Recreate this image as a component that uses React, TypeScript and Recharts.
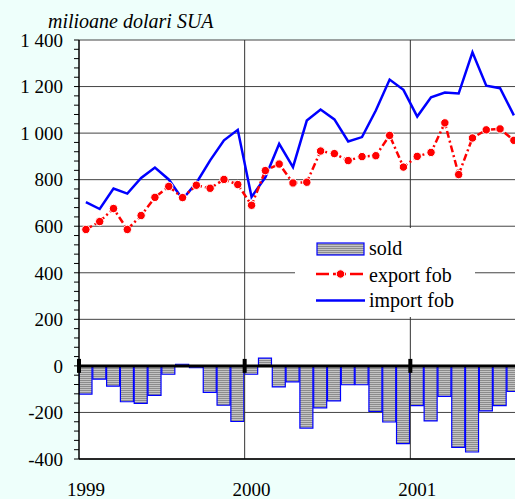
import React from 'react';
import {
  ComposedChart,
  Bar,
  Line,
  XAxis,
  YAxis,
  CartesianGrid,
  ReferenceLine,
} from 'recharts';

const FONT = "'Liberation Serif', 'Times New Roman', serif";

// monthly values, Jan 1999 .. Aug 2001 (rest of 2001 is cut off in the source)
const exportFob = [
  586, 620, 676, 586, 646, 724, 771, 723, 776, 763, 801, 779,
  690, 839, 867, 786, 789, 923, 912, 882, 899, 903, 990, 854,
  900, 917, 1044, 822, 979, 1014, 1018, 969,
];
const importFob = [
  704, 674, 762, 740, 807, 852, 801, 716, 786, 883, 969, 1014,
  726, 810, 954, 854, 1054, 1101, 1059, 964, 983, 1097, 1230, 1186,
  1071, 1154, 1174, 1170, 1347, 1204, 1193, 1076,
];
const sold = [
  -121, -57, -87, -154, -161, -127, -36, 7, -8, -114, -169, -239,
  -36, 33, -90, -69, -267, -180, -150, -81, -81, -196, -241, -334,
  -171, -236, -131, -350, -370, -193, -171, -110,
];

const years = ['1999', '2000', '2001'];
const yMajor = [-400, -200, 0, 200, 400, 600, 800, 1000, 1200, 1400];
const yMinor: number[] = [];
for (let v = -400; v <= 1400; v += 40) yMinor.push(v);

const data = sold.map((s, i) => ({
  x: i + 0.5,
  sold: s,
  exp: exportFob[i],
  imp: importFob[i],
}));

const fmtY = (v: number) => {
  if (v % 200 !== 0) return '';
  if (v >= 1000) return `${Math.floor(v / 1000)} ${String(v % 1000).padStart(3, '0')}`;
  return String(v);
};

const PLOT_LEFT = 79;
const PLOT_W = 497;
const X_MAX = 36;

// place label from the axis value itself; recharts nudges the first one inward otherwise
const YearTick = (props: any) => {
  const { y, payload } = props;
  const cx = PLOT_LEFT + (payload.value / X_MAX) * PLOT_W;
  return (
    <text
      x={cx}
      y={y}
      dy="0.71em"
      textAnchor="middle"
      fontSize={19}
      fontFamily={FONT}
      fill="#000"
    >
      {years[Math.floor(payload.value / 12)]}
    </text>
  );
};

export default function App() {
  return (
    <div
      style={{
        position: 'absolute',
        left: 0,
        top: 0,
        width: 515,
        height: 499,
        overflow: 'hidden',
        background: '#EEFFFB',
        fontFamily: FONT,
      }}
    >
      <svg width={0} height={0} style={{ position: 'absolute' }}>
        <defs>
          <pattern id="stripes" width={4} height={2} patternUnits="userSpaceOnUse">
            <rect width={4} height={2} fill="#c4c4c4" />
            <rect width={4} height={1} fill="#8c8c8c" />
          </pattern>
        </defs>
      </svg>

      <div
        style={{
          position: 'absolute',
          left: 48,
          top: 11,
          fontSize: 20,
          lineHeight: 1,
          fontStyle: 'italic',
          color: '#000',
          whiteSpace: 'nowrap',
        }}
      >
        milioane dolari SUA
      </div>

      <ComposedChart
        width={PLOT_LEFT + PLOT_W}
        height={499}
        data={data}
        margin={{ top: 40, right: 0, bottom: 0, left: 0 }}
        barGap={0}
      >
        <CartesianGrid
          fill="#ffffff"
          vertical={false}
          horizontalValues={yMajor}
          stroke="#444"
          strokeOpacity={1}
        />
        <XAxis
          type="number"
          dataKey="x"
          domain={[0, X_MAX]}
          ticks={[0.5, 12.5, 24.5]}
          interval={0}
          height={40}
          tickLine={false}
          tickSize={6}
          tickMargin={18}
          axisLine={{ stroke: '#000', strokeWidth: 1.5 }}
          tick={<YearTick />}
          allowDataOverflow
        />
        <YAxis
          type="number"
          domain={[-400, 1400]}
          ticks={yMinor}
          interval={0}
          tickFormatter={fmtY}
          width={PLOT_LEFT}
          tickSize={5}
          tickMargin={11}
          tickLine={{ stroke: '#000' }}
          axisLine={{ stroke: '#000', strokeWidth: 1.5 }}
          tick={{ fontSize: 19, fill: '#000', fontFamily: FONT }}
        />
        <ReferenceLine x={12} stroke="#333" strokeWidth={1} />
        <ReferenceLine x={24} stroke="#333" strokeWidth={1} />
        <Bar
          dataKey="sold"
          barSize={13}
          fill="url(#stripes)"
          stroke="#0000ff"
          strokeWidth={1.2}
          isAnimationActive={false}
        />
        <ReferenceLine y={0} stroke="#000" strokeWidth={3} />
        <ReferenceLine segment={[{ x: 0, y: -30 }, { x: 0, y: 30 }]} stroke="#000" strokeWidth={4} />
        <ReferenceLine segment={[{ x: 12, y: -30 }, { x: 12, y: 30 }]} stroke="#000" strokeWidth={4} />
        <ReferenceLine segment={[{ x: 24, y: -30 }, { x: 24, y: 30 }]} stroke="#000" strokeWidth={4} />
        <Line
          type="linear"
          dataKey="imp"
          stroke="#0000ff"
          strokeWidth={2.5}
          dot={false}
          isAnimationActive={false}
        />
        <Line
          type="linear"
          dataKey="exp"
          stroke="#ff0000"
          strokeWidth={2.5}
          strokeDasharray="7 3 2 3"
          dot={{ r: 4.2, fill: '#ff0000', stroke: '#ffffff', strokeWidth: 1, strokeDasharray: '' }}
          isAnimationActive={false}
        />
      </ComposedChart>

      <svg
        width={180}
        height={89}
        style={{ position: 'absolute', left: 295, top: 228 }}
      >
        <rect width={180} height={89} fill="#ffffff" />
        <rect x={22} y={15} width={47} height={12} fill="url(#stripes)" stroke="#0000ff" strokeWidth={1.2} />
        <text x={74} y={27} fontSize={20} fontFamily={FONT} fill="#000">sold</text>
        <line x1={21} x2={70} y1={46} y2={46} stroke="#ff0000" strokeWidth={2.5} strokeDasharray="13 4" />
        <circle cx={45.5} cy={46} r={4.2} fill="#ff0000" stroke="#fff" strokeWidth={1} />
        <text x={74} y={53.5} fontSize={20} fontFamily={FONT} fill="#000">export fob</text>
        <line x1={21} x2={70} y1={72.5} y2={72.5} stroke="#0000ff" strokeWidth={2.5} />
        <text x={74} y={79} fontSize={20} fontFamily={FONT} fill="#000">import fob</text>
      </svg>
    </div>
  );
}
